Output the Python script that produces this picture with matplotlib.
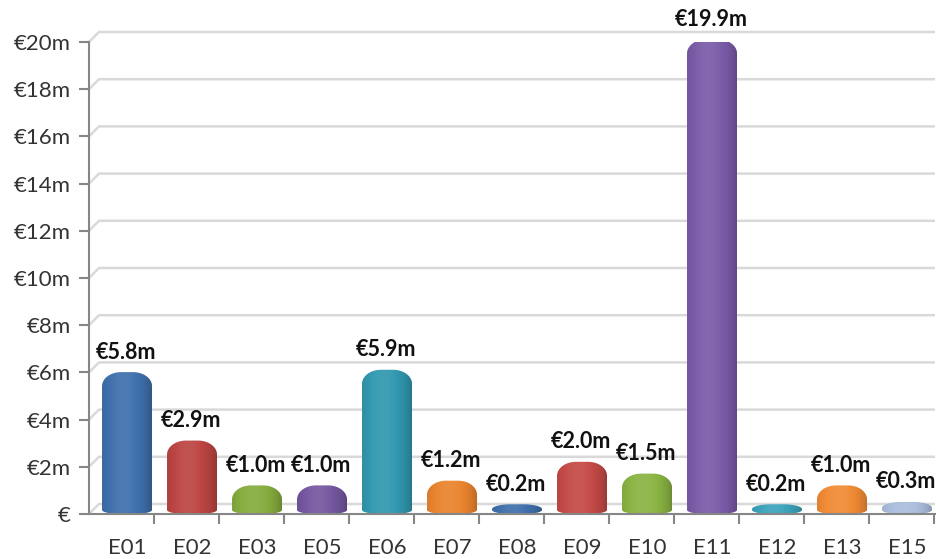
"""Excel-style cylinder bar chart of spend per entity."""

import matplotlib

matplotlib.use("Agg")
import numpy as np
from matplotlib import pyplot as plt
from matplotlib.colors import to_rgb
from matplotlib.patches import PathPatch
from matplotlib.path import Path

categories = ["E01", "E02", "E03", "E05", "E06", "E07", "E08", "E09", "E10", "E11", "E12", "E13", "E15"]
values = [5.8, 2.9, 1.0, 1.0, 5.9, 1.2, 0.2, 2.0, 1.5, 19.9, 0.2, 1.0, 0.3]
value_labels = ["€5.8m", "€2.9m", "€1.0m", "€1.0m", "€5.9m", "€1.2m", "€0.2m", "€2.0m", "€1.5m", "€19.9m", "€0.2m", "€1.0m", "€0.3m"]
bar_colors = [
	"#3F70AC", "#BC4542", "#86AC3E", "#7457A0", "#3198B0", "#E9842E",
	"#3F70AC", "#C44A47", "#8AB443", "#7B5BA8", "#3BA3BB", "#F08B34", "#A9BDDB",
]
y_ticks = list(range(0, 21, 2))
y_tick_labels = ["€"] + [f"€{v}m" for v in y_ticks[1:]]

plt.rcParams["font.family"] = ["Lato", "DejaVu Sans"]

W, H = 937, 559
fig = plt.figure(figsize=(W / 100, H / 100), dpi=100)
ax_left, ax_right, ax_top, ax_bottom = 89, 935, 42, 514
ax = fig.add_axes([ax_left / W, (H - ax_bottom) / H, (ax_right - ax_left) / W, (ax_bottom - ax_top) / H])

x0 = -0.585
x1 = x0 + (ax_right - ax_left) / 65
ax.set_xlim(x0, x1)
ax.set_ylim(0, 20)

px_x = (x1 - x0) / (ax_right - ax_left)  # data units per pixel
px_y = 20 / (ax_bottom - ax_top)

# 3D-looking back-wall gridlines
depth = 10
for v in y_ticks:
	ax.plot([x0, x0 + depth * px_x, x1], [v, v + depth * px_y, v + depth * px_y],
		color="#D9D9D9", lw=1.8, zorder=0.5, clip_on=False, solid_capstyle="butt")


def _cylinder_path(xc: float, w: float, h: float) -> Path:
	left, right = xc - w / 2, xc + w / 2
	rx = w * 0.38
	rt = min(14 * px_y, h / 2)
	rb = min(4 * px_y, h / 2)
	pts = []
	for cx, cy, ry, a0, a1 in [
		(left + rx, rb, rb, np.pi, 1.5 * np.pi),
		(right - rx, rb, rb, 1.5 * np.pi, 2 * np.pi),
		(right - rx, h - rt, rt, 0, 0.5 * np.pi),
		(left + rx, h - rt, rt, 0.5 * np.pi, np.pi),
	]:
		for a in np.linspace(a0, a1, 20):
			pts.append((cx + rx * np.cos(a), cy + ry * np.sin(a)))
	pts.append(pts[0])
	return Path(pts, closed=True)


def _shade(color: str) -> np.ndarray:
	base = np.array(to_rgb(color))
	u = np.linspace(0, 1, 200)
	k = np.clip(np.cos((u - 0.42) * np.pi / 1.2), 0, 1) ** 0.6
	shade = 0.72 + 0.33 * k
	s = shade[:, None]
	rgb = np.where(s <= 1, base * s, base + (1 - base) * (s - 1) * 1.5)
	return np.clip(rgb, 0, 1)[None, :, :]


bar_w = 50 * px_x
cap = 5 * px_y  # visible top face of the 3D cylinder
for i, (val, col) in enumerate(zip(values, bar_colors, strict=True)):
	top = val + cap
	path = _cylinder_path(i, bar_w, top)
	patch = PathPatch(path, facecolor="none", edgecolor="none", zorder=2)
	ax.add_patch(patch)
	img = ax.imshow(_shade(col), extent=[i - bar_w / 2, i + bar_w / 2, 0, top],
		aspect="auto", zorder=2, interpolation="bilinear")
	img.set_clip_path(patch)
	ax.annotate(value_labels[i], (i, top), xytext=(-1, 20), textcoords="offset pixels",
		ha="center", va="center", fontsize=15.5, fontweight="bold", color="#111111",
		annotation_clip=False)

ax.set_xlim(x0, x1)
ax.set_ylim(0, 20)

for side in ["top", "right"]:
	ax.spines[side].set_visible(False)
for side in ["left", "bottom"]:
	ax.spines[side].set_color("#868686")
	ax.spines[side].set_linewidth(1.5)

ax.set_yticks(y_ticks)
ax.set_yticklabels(y_tick_labels, fontsize=16, color="#333333")
ax.tick_params(axis="y", length=7, width=1.5, color="#868686", pad=6)

ax.set_xticks(range(len(categories)))
ax.set_xticklabels(categories, fontsize=16, color="#333333")
ax.tick_params(axis="x", length=0, pad=17)
ax.set_xticks([x0 + k for k in range(1, len(categories) + 1)], minor=True)
ax.tick_params(axis="x", which="minor", length=7, width=1.5, color="#868686")

fig.savefig("out.png", dpi=100, facecolor="white")
